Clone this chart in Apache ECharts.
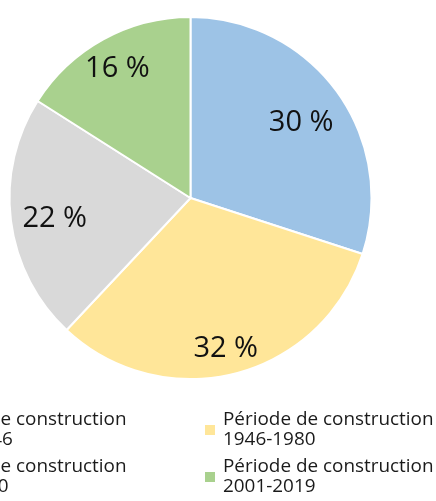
<!DOCTYPE html>
<html>
<head>
<meta charset="utf-8">
<script src="https://cdn.jsdelivr.net/npm/echarts@6/dist/echarts.min.js"></script>
<style>
html,body{margin:0;padding:0;background:#fff;}
#chart{width:436px;height:501px;}
</style>
</head>
<body>
<div id="chart"></div>
<script>
const categories = [
  'Période de construction\navant 1946',
  'Période de construction\n1946-1980',
  'Période de construction\n1981-2000',
  'Période de construction\n2001-2019'
];
const values = [30, 32, 22, 16];
const colors = ['#9DC3E6', '#FFE699', '#D9D9D9', '#A9D18E'];
const labelOffsets = [[35, -20], [12, 60], [-43, 9], [-28, -47]];

const chart = echarts.init(document.getElementById('chart'), null, {renderer: 'canvas'});
const legendCommon = {
  type: 'plain',
  orient: 'vertical',
  top: 406,
  height: 200,
  width: 300,
  padding: 0,
  itemWidth: 12,
  itemHeight: 12,
  itemGap: -1,
  icon: 'rect',
  selectedMode: false,
  textStyle: {
    fontFamily: 'Open Sans',
    fontSize: 18.9,
    lineHeight: 20,
    color: '#1a1a1a',
    padding: [8, 0, 0, 2]
  }
};
chart.setOption({
  animation: false,
  legend: [
    Object.assign({}, legendCommon, {left: -104, data: [categories[0], categories[2]]}),
    Object.assign({}, legendCommon, {left: 203, data: [categories[1], categories[3]]})
  ],
  series: [{
    type: 'pie',
    center: [190.5, 198],
    radius: [0, 181],
    startAngle: 90,
    clockwise: true,
    silent: true,
    itemStyle: {borderColor: '#fff', borderWidth: 2},
    label: {
      show: true,
      position: 'inside',
      fontFamily: 'Open Sans',
      fontSize: 29,
      color: '#111',
      formatter: p => p.value + ' %'
    },
    labelLine: {show: false},
    data: categories.map((c, i) => ({
      name: c,
      value: values[i],
      itemStyle: {color: colors[i]},
      label: {offset: labelOffsets[i]}
    }))
  }]
});
</script>
</body>
</html>
